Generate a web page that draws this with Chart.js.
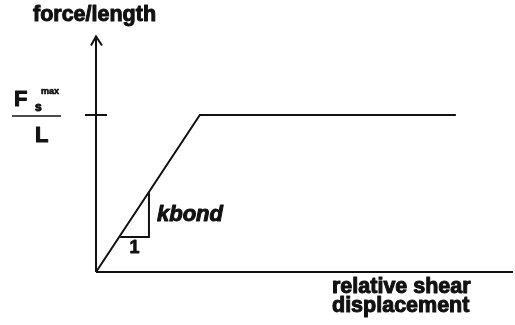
<!DOCTYPE html>
<html>
<head>
<meta charset="utf-8">
<script src="https://cdn.jsdelivr.net/npm/chart.js@4"></script>
<style>
  html, body { margin: 0; padding: 0; background: #fff; }
  #wrap { width: 515px; height: 325px; position: relative; }
</style>
</head>
<body>
<div id="wrap"><canvas id="chart"></canvas></div>
<script>
// bilinear bond law: rises with slope kbond, then plateau at Fs_max / L
const curveX = [0, 2.49, 8.63];
const curveY = [0, 1, 1];
// little slope triangle under the rising branch
const triX = [0.58, 1.27, 1.27];
const triY = [0.223, 0.223, 0.51];
const xMax = 10;
const yMax = 1.5;
const yTitle = "force/length";
const xTitle = ["relative shear", "displacement"];

const ink = "#111";
const pts = (xs, ys) => xs.map((x, i) => ({ x, y: ys[i] }));

// heavy text: fill plus a thin stroke, the scan looks very bold
function heavy(c, s, x, y, w) {
    c.lineWidth = w;
    c.strokeText(s, x, y);
    c.fillText(s, x, y);
}

const labels = {
    id: "labels",
    afterDraw(chart) {
        const c = chart.ctx;
        const xs = chart.scales.x, ys = chart.scales.y;
        const x0 = xs.getPixelForValue(0), y0 = ys.getPixelForValue(0);
        const yTop = ys.getPixelForValue(yMax);
        const y1 = ys.getPixelForValue(1);
        c.save();
        c.strokeStyle = ink;
        c.fillStyle = ink;
        c.lineWidth = 2;
        // axes
        c.beginPath();
        c.moveTo(x0, y0); c.lineTo(xs.right, y0);
        c.moveTo(x0, y0); c.lineTo(x0, yTop);
        // arrow head
        c.moveTo(x0 - 5, yTop + 9); c.lineTo(x0, yTop); c.lineTo(x0 + 6, yTop + 9);
        // tick at Fs_max / L
        c.moveTo(x0 - 11, y1); c.lineTo(x0 + 11, y1);
        c.stroke();

        c.textBaseline = "alphabetic";
        c.lineJoin = "round";
        c.font = "bold 21.5px 'Liberation Sans', Arial, sans-serif";
        c.textAlign = "left";
        heavy(c, yTitle, 33, 21, 1);
        heavy(c, xTitle[0], 332, 293, 1);
        heavy(c, xTitle[1], 332, 312, 1);

        // Fs^max / L
        c.font = "bold 22px 'Liberation Sans', Arial, sans-serif";
        heavy(c, "F", 14, 106, 1);
        heavy(c, "L", 35, 142, 1);
        c.font = "bold 12px 'Liberation Sans', Arial, sans-serif";
        heavy(c, "s", 35, 111, 1);
        c.font = "bold 9px 'Liberation Sans', Arial, sans-serif";
        heavy(c, "max", 41, 94, 0.6);
        c.lineWidth = 1.5;
        c.beginPath();
        c.moveTo(12, y1 + 1); c.lineTo(61, y1 + 1);
        c.stroke();

        // slope labels
        const tx = xs.getPixelForValue(triX[1]);
        const ty = ys.getPixelForValue(triY[0]);
        c.font = "bold 18px 'Liberation Sans', Arial, sans-serif";
        c.textAlign = "center";
        heavy(c, "1", (xs.getPixelForValue(triX[0]) + tx) / 2, ty + 16, 0.8);
        c.font = "italic bold 22px 'Liberation Sans', Arial, sans-serif";
        c.textAlign = "left";
        heavy(c, "kbond", tx + 8, (ty + ys.getPixelForValue(triY[2])) / 2 + 7, 1);
        c.restore();
    },
};

new Chart(document.getElementById("chart"), {
    type: "scatter",
    data: {
        datasets: [
            {
                data: pts(curveX, curveY),
                showLine: true,
                borderColor: ink,
                borderWidth: 2,
                pointRadius: 0,
            },
            {
                data: pts(triX, triY),
                showLine: true,
                borderColor: ink,
                borderWidth: 2,
                pointRadius: 0,
            },
        ],
    },
    options: {
        responsive: true,
        maintainAspectRatio: false,
        animation: false,
        layout: { padding: { left: 96, right: 2, top: 36.5, bottom: 53 } },
        plugins: { legend: { display: false }, tooltip: { enabled: false } },
        scales: {
            x: { type: "linear", min: 0, max: xMax, display: false },
            y: { type: "linear", min: 0, max: yMax, display: false },
        },
    },
    plugins: [labels],
});
</script>
</body>
</html>
